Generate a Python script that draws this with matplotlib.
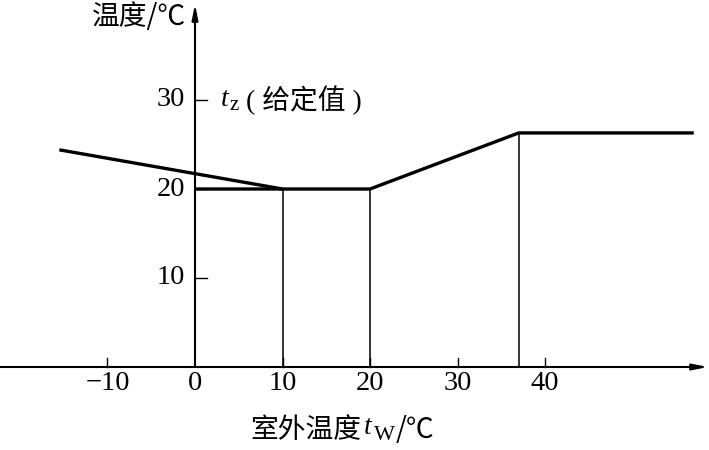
import matplotlib.pyplot as plt

# Data
slope_x = [-15.5, 10]          # outdoor-compensation line, left part
slope_y = [24.4, 20]
set_x = [0, 20, 37, 57]        # given-value curve t_z
set_y = [20, 20, 26.3, 26.3]
guide_x = [10, 20, 37]         # thin vertical drop lines
guide_top = [20, 20, 26.3]
xticks = [-10, 0, 10, 20, 30, 40]
xtick_labels = ["\u221210", "0", "10", "20", "30", "40"]
yticks = [10, 20, 30]

SERIF = ["Liberation Serif", "Noto Sans CJK SC"]
CJK = ["Noto Sans CJK SC", "Liberation Serif"]
plt.rcParams["font.family"] = SERIF

W, H = 709, 450
fig = plt.figure(figsize=(W / 100, H / 100), dpi=100)
ax = fig.add_axes([0, 0, 1, 1])

# pixel scale of the original: ~8.75 px per degree on x, ~8.9 px on y
PX, PY = 8.75, 8.9
X0, Y0 = 195, 367
ax.set_xlim(-X0 / PX, (W - X0) / PX)
ax.set_ylim(-(H - Y0) / PY, Y0 / PY)
ax.axis("off")


def px(x, y):
    # figure fraction from pixel position (top-left origin)
    return x / W, 1 - y / H


# axes with arrows
arrow = dict(arrowstyle="-|>,head_length=0.9,head_width=0.18",
             color="black", lw=1.5, shrinkA=0, shrinkB=0)
ax.annotate("", xy=((708 - X0) / PX, 0), xytext=(-X0 / PX, 0), arrowprops=arrow)
ax.annotate("", xy=(0, (Y0 - 4) / PY), xytext=(0, 0), arrowprops=arrow)

# x ticks point up from the axis
for xt, lab in zip(xticks, xtick_labels):
    if xt != 0:
        ax.plot([xt, xt], [0, 9 / PY], color="black", lw=1)
    ax.text(xt, -17 / PY, lab, ha="center", va="center", fontsize=20.5)

# y ticks point right from the axis
for yt in yticks:
    ax.plot([0, 12 / PX], [yt, yt], color="black", lw=1)
    ax.text(-10 / PX, yt, str(yt), ha="right", va="center", fontsize=20.5)

# curves
ax.plot(slope_x, slope_y, color="black", lw=2.4, solid_capstyle="butt")
ax.plot(set_x, set_y, color="black", lw=2.4, solid_capstyle="butt")
for gx, gt in zip(guide_x, guide_top):
    ax.plot([gx, gx], [0, gt], color="black", lw=1.1)

# y axis title
fig.text(*px(186, 17), "温度/℃", ha="right", va="center", fontsize=20,
         family=CJK)

# t_z (给定值)
fig.text(*px(221, 100), "t", ha="left", va="center", fontsize=20,
         style="italic")
fig.text(*px(229, 106), "z", ha="left", va="center", fontsize=15)
fig.text(*px(246, 100), "( 给定值 )", ha="left", va="center", fontsize=20)

# x axis title
fig.text(*px(250, 430), "室外温度", ha="left", va="center", fontsize=20,
         family=CJK)
fig.text(*px(364, 428), "t", ha="left", va="center", fontsize=20,
         style="italic")
fig.text(*px(374, 436), "W", ha="left", va="center", fontsize=16)
fig.text(*px(396, 430), "/℃", ha="left", va="center", fontsize=20,
         family=CJK)

fig.savefig("out.png", dpi=100)
